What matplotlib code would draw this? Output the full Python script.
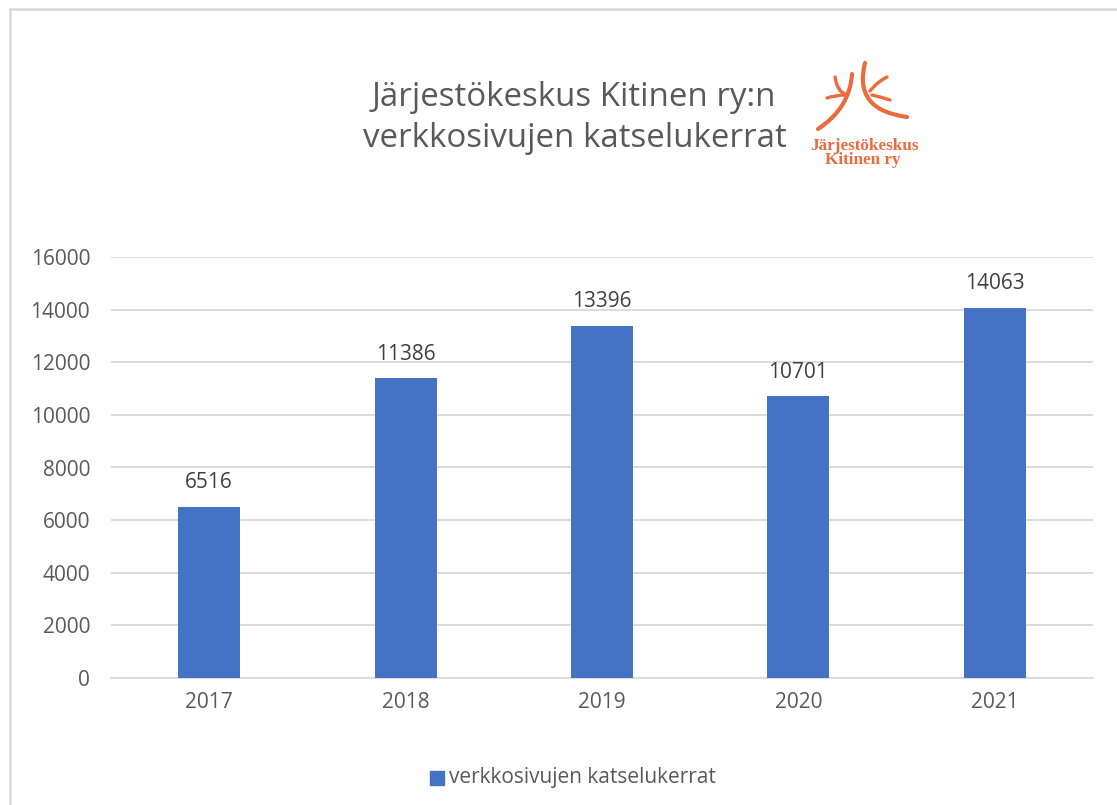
import matplotlib
matplotlib.use("Agg")
import matplotlib.pyplot as plt
from matplotlib.path import Path
from matplotlib.patches import PathPatch, Rectangle

years = ["2017", "2018", "2019", "2020", "2021"]
views = [6516, 11386, 13396, 10701, 14063]
yticks = [0, 2000, 4000, 6000, 8000, 10000, 12000, 14000, 16000]
title_lines = ["Järjestökeskus Kitinen ry:n", "verkkosivujen katselukerrat"]
series_name = "verkkosivujen katselukerrat"
logo_lines = ["Järjestökeskus", "Kitinen ry"]

W, H = 1117, 805
fig = plt.figure(figsize=(W / 100, H / 100), dpi=100)
fig.patch.set_facecolor("white")

def fx(x):
    return x / W

def fy(y):
    return 1 - y / H

# outer chart border (cropped by the image edges)
fig.add_artist(Rectangle((fx(10), fy(805) - 0.2), 1.2, fy(9) - fy(805) + 0.2,
                         transform=fig.transFigure, fill=False,
                         edgecolor="#D9D9D9", lw=1.8))

ax = fig.add_axes([fx(111), fy(678), fx(1093) - fx(111), fy(257) - fy(678)])
x = list(range(len(years)))
ax.bar(x, views, width=0.316, color="#4472C4", zorder=3)
ax.set_xlim(-0.5, len(years) - 0.5)
ax.set_ylim(0, 16000)
ax.set_yticks(yticks)
ax.set_xticks(x)
ax.set_xticklabels(years)
ax.grid(axis="y", color="#D9D9D9", lw=1.3, zorder=0)
for s in ["top", "right", "left"]:
    ax.spines[s].set_visible(False)
ax.spines["bottom"].set_color("#D9D9D9")
ax.spines["bottom"].set_linewidth(1.3)
ax.tick_params(axis="both", length=0, labelsize=15, labelcolor="#595959")
ax.tick_params(axis="y", pad=15)
ax.tick_params(axis="x", pad=10)
for lab in ax.get_xticklabels() + ax.get_yticklabels():
    lab.set_family("Open Sans")
for xi, v in zip(x, views):
    ax.annotate(str(v), (xi, v), xytext=(0, 10), textcoords="offset points",
                ha="center", va="bottom", fontsize=15, color="#404040", family="Open Sans")

fig.text(fx(574), fy(97), title_lines[0], ha="center", va="center", fontsize=23.8,
         color="#595959", family="Open Sans")
fig.text(fx(575), fy(138), title_lines[1], ha="center", va="center", fontsize=23.8,
         color="#595959", family="Open Sans")

# legend
fig.add_artist(Rectangle((fx(430), fy(785)), fx(14), 14 / H, transform=fig.transFigure,
                         color="#4472C4"))
fig.text(fx(449), fy(777), series_name, ha="left", va="center", fontsize=15,
         color="#595959", family="Open Sans")

# logo
orange = "#EC6A3C"
def curve(pts, lw=3.0):
    p = [(fx(a), fy(b)) for a, b in pts]
    codes = [Path.MOVETO] + [Path.CURVE3] * (len(p) - 1)
    fig.add_artist(PathPatch(Path(p, codes), transform=fig.transFigure, fill=False,
                             edgecolor=orange, lw=lw, capstyle="round"))

curve([(818, 129), (850, 108), (852, 74)])
curve([(835, 77), (837, 92), (847, 95)], lw=2.4)
curve([(827, 98), (836, 95), (846, 95)], lw=2.4)
curve([(865, 63), (853, 110), (907, 117)])
curve([(870, 91), (877, 82), (887, 77)], lw=2.4)
curve([(872, 95), (881, 97), (890, 100)], lw=2.4)
fig.text(fx(864), fy(150), logo_lines[0], ha="center", va="baseline", fontsize=12.3,
         color=orange, family="Liberation Serif", weight="bold")
fig.text(fx(863), fy(164), logo_lines[1], ha="center", va="baseline", fontsize=12.3,
         color=orange, family="Liberation Serif", weight="bold")

fig.savefig("out.png", dpi=100, facecolor="white")
